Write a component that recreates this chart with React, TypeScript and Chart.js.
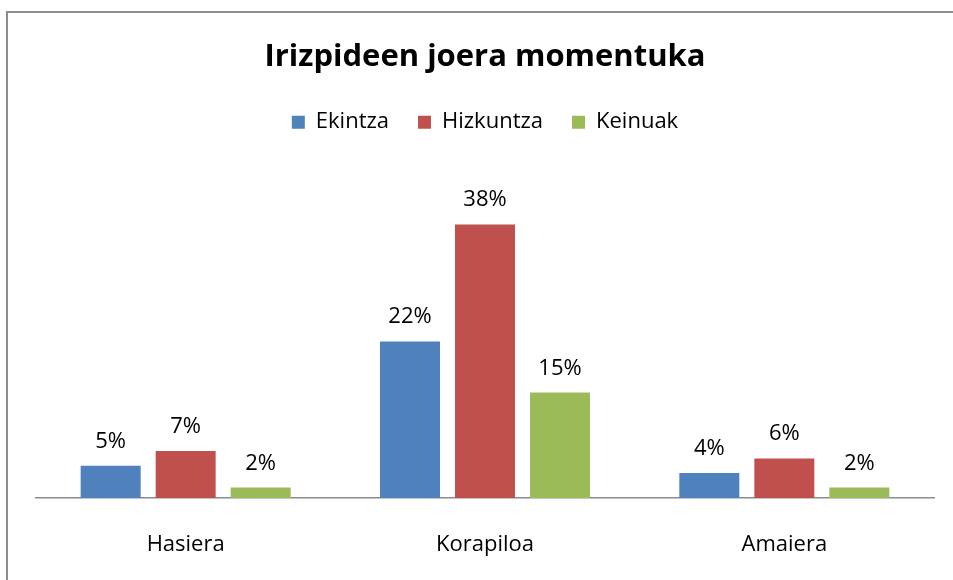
import React, { useEffect, useRef } from "react";
import { Chart, registerables } from "chart.js";

Chart.register(...registerables);

const chartTitle = "Irizpideen joera momentuka";
const categories = ["Hasiera", "Korapiloa", "Amaiera"];
const seriesNames = ["Ekintza", "Hizkuntza", "Keinuak"];
const ekintza = [5, 22, 4];
const hizkuntza = [7, 38, 6];
const keinuak = [2, 15, 2];
const seriesColors = ["#4F81BD", "#C0504D", "#9BBB59"];

const FONT = "'Open Sans', 'DejaVu Sans', sans-serif";

const frame = {
  id: "frame",
  beforeDraw(chart: any) {
    const ctx = chart.ctx;
    ctx.save();
    ctx.fillStyle = "#ffffff";
    ctx.fillRect(0, 0, chart.width, chart.height);
    ctx.strokeStyle = "#8c8c8c";
    ctx.lineWidth = 2;
    ctx.beginPath();
    ctx.moveTo(7, chart.height + 10);
    ctx.lineTo(7, 12);
    ctx.lineTo(chart.width + 10, 12);
    ctx.stroke();
    ctx.restore();
  },
};

const dataLabels = {
  id: "dataLabels",
  afterDatasetsDraw(chart: any) {
    const ctx = chart.ctx;
    ctx.save();
    ctx.font = `22px ${FONT}`;
    ctx.fillStyle = "#000000";
    ctx.textAlign = "center";
    ctx.textBaseline = "alphabetic";
    chart.data.datasets.forEach((ds: any, i: number) => {
      const meta = chart.getDatasetMeta(i);
      meta.data.forEach((el: any, j: number) => {
        ctx.fillText(`${ds.data[j]}%`, el.x, el.y - 18);
      });
    });
    ctx.restore();
  },
};

export default function App() {
  const ref = useRef<HTMLCanvasElement | null>(null);

  useEffect(() => {
    if (!ref.current) return;
    const values = [ekintza, hizkuntza, keinuak];
    const chart = new Chart(ref.current, {
      type: "bar",
      data: {
        labels: categories,
        datasets: seriesNames.map((name, i) => ({
          label: name,
          data: values[i],
          backgroundColor: seriesColors[i],
          borderWidth: 0,
          categoryPercentage: 0.7517,
          barPercentage: 0.8,
        })),
      },
      options: {
        responsive: false,
        animation: false,
        devicePixelRatio: 1,
        layout: { padding: { left: 36, right: 19, top: 0, bottom: -12.4 } },
        plugins: {
          title: {
            display: true,
            text: chartTitle,
            color: "#000000",
            font: { family: FONT, size: 31, weight: "bold", lineHeight: 1.2 },
            padding: { top: 39, bottom: 6 },
          },
          legend: {
            display: true,
            position: "top",
            labels: {
              color: "#000000",
              font: { family: FONT, size: 22 },
              boxWidth: 13,
              boxHeight: 13,
              padding: 29,
            },
          },
          tooltip: { enabled: false },
        },
        scales: {
          x: {
            grid: { display: false, drawTicks: false },
            border: { display: true, color: "#8c8c8c", width: 1.5 },
            ticks: {
              color: "#000000",
              font: { family: FONT, size: 22, lineHeight: 1.2 },
              padding: 34,
            },
          },
          y: {
            display: false,
            min: 0.58,
            max: 49.12,
          },
        },
      },
      plugins: [frame, dataLabels],
    });
    return () => chart.destroy();
  }, []);

  return (
    <div style={{ position: "fixed", left: 0, top: 0, width: 953, height: 580, background: "#fff" }}>
      <canvas ref={ref} width={953} height={580} style={{ width: 953, height: 580, display: "block" }} />
    </div>
  );
}
